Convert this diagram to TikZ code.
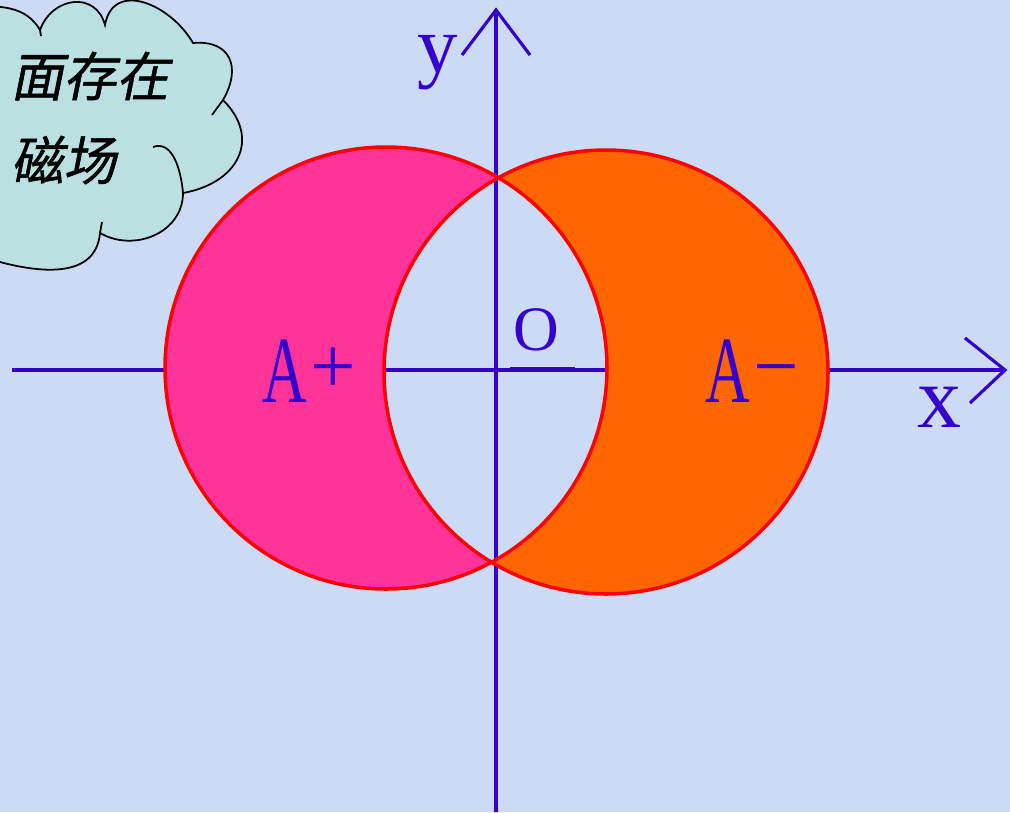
\documentclass[tikz,border=0pt]{standalone}
\usepackage{fontspec}
\setmainfont{Liberation Serif}
\newfontfamily\cjkfont[FakeSlant=0.2,FakeBold=1]{Noto Sans CJK SC}
\newfontfamily\narrowfont[FakeStretch=0.65]{Liberation Serif}
\usetikzlibrary{calc}
\definecolor{AxBlue}{HTML}{3300CC}
\definecolor{BgBlue}{HTML}{CCDAF5}
\definecolor{CloudFill}{HTML}{BAE0E2}
\definecolor{PlusPink}{HTML}{FF3399}
\definecolor{MinusOrange}{HTML}{FF6600}
\newcommand{\signbox}[1]{\raisebox{2.4pt}{\rmfamily\fontsize{23}{26}\selectfont #1}}

\begin{document}
\begin{tikzpicture}[x=0.1mm,y=0.1mm,
  ax/.style={draw=AxBlue,line width=0.9pt},
  rim/.style={draw=red,line width=1pt},
  cloudy/.style={fill=CloudFill,draw=black,line width=0.5pt},
  lbl/.style={text=AxBlue,inner sep=0pt,anchor=base west}]
\useasboundingbox (0,0) rectangle (1010,812);
\clip (0,0) rectangle (1010,812);
\fill[BgBlue] (0,0) rectangle (1010,812);
% cloud in the corner
\path[cloudy] (-30,806) to[out=0,in=120] (40,782)
  to[out=70,in=105,looseness=1.4] (105,787)
  to[out=80,in=120,looseness=1.3] (193,769)
  to[out=5,in=60,looseness=1.5] (223,712)
  to[out=-45,in=10,looseness=1.4] (183,619)
  to[out=-90,in=-30,looseness=1.1] (100,579)
  to[out=-95,in=-15,looseness=1.1] (0,550)
  -- (-40,545) -- (-40,806) -- cycle;
\draw[line width=0.5pt] (153,665) to[out=20,in=95] (183,619);
\draw[line width=0.5pt] (223,712) -- (212,697);
\draw[line width=0.5pt] (102,590) -- (100,579);
\draw[line width=0.5pt] (40,782) -- (41,776);
\node[anchor=west,inner sep=0pt,font=\cjkfont\fontsize{15}{16}\selectfont] (t1) at (10,736) {面存在};
\node[anchor=west,inner sep=0pt,font=\cjkfont\fontsize{15}{16}\selectfont] (t2) at (10,652) {磁场};
% axes
\coordinate (O) at (496,442);
\coordinate (xl) at (12,442);
\coordinate (xr) at (1005,442);
\coordinate (yb) at (496,0);
\coordinate (yt) at (496,802);
\draw[ax] (xl) -- (xr);
\draw[ax] (yb) -- (yt);
\draw[ax] (965,474) -- (xr) -- (970,409);
\draw[ax] (462,757) -- (yt) -- (530,757);
\draw[ax,line width=1.4pt] (510,443) -- (575,443);
% the two regions
\coordinate (cl) at (386,444);
\coordinate (cr) at (606,440);
\begin{scope}
  \clip (cl) circle (221);
  \fill[PlusPink,even odd rule] (cl) circle (221) (cr) circle (222);
\end{scope}
\begin{scope}
  \clip (cr) circle (222);
  \fill[MinusOrange,even odd rule] (cl) circle (221) (cr) circle (222);
\end{scope}
\draw[rim] (cl) circle (221);
\draw[rim] (cr) circle (222);
% labels
\node[lbl,font=\narrowfont\fontsize{27}{30}\selectfont] (ap) at (262,410) {A\kern1pt\signbox{+}};
\node[lbl,font=\narrowfont\fontsize{27}{30}\selectfont] (am) at (705,410) {A\kern1pt\signbox{\textminus}};
\node[lbl,font=\fontsize{18}{20}\selectfont] (o) at (513,462) {O};
\node[lbl,font=\fontsize{23}{26}\selectfont] (y) at (417,740) {y};
\node[lbl,font=\fontsize{25}{28}\selectfont] (x) at (917,385) {x};
\end{tikzpicture}
\end{document}
